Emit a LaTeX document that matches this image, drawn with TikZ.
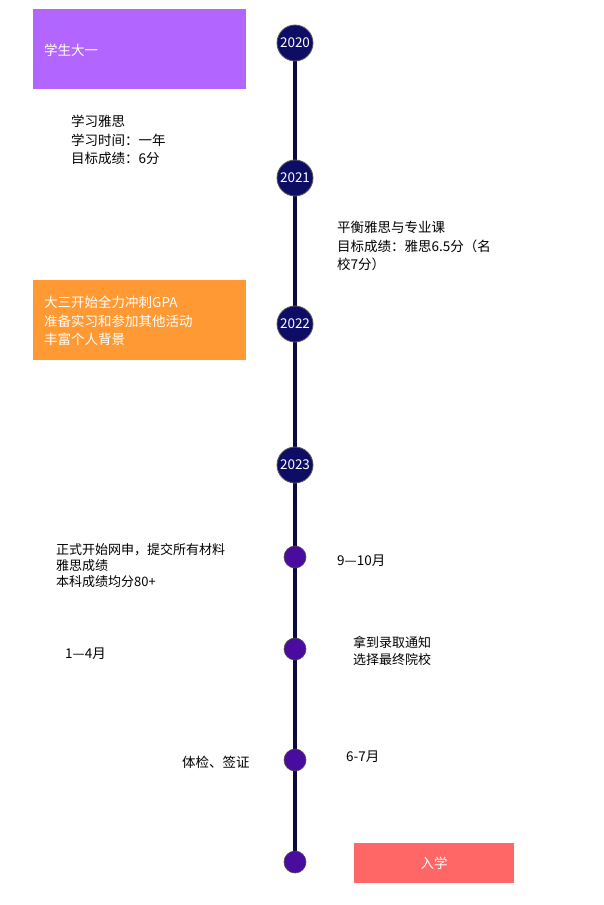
\documentclass[tikz,border=0pt]{standalone}
\usepackage{fontspec}
\setmainfont{Noto Sans CJK SC}
\definecolor{pboxc}{HTML}{B266FF}
\definecolor{oboxc}{HTML}{FF9933}
\definecolor{rboxc}{HTML}{FF6666}
\definecolor{linec}{HTML}{0A0A3C}
\definecolor{yearc}{HTML}{0D0D66}
\definecolor{dotc}{HTML}{4A0C9E}
\begin{document}
\begin{tikzpicture}[x=1pt,y=-1pt,
  yearnode/.style={circle,fill=yearc,draw=gray!70!black,line width=0.8pt,minimum size=36pt,inner sep=0pt,text=white,font=\fontsize{13.5}{15}\selectfont},
  dotnode/.style={circle,fill=dotc,draw=gray!60!black,line width=0.6pt,minimum size=22pt,inner sep=0pt},
  txt/.style={anchor=north west,align=left,inner sep=0pt,font=\fontsize{13.5}{18.5}\selectfont},
  wtxt/.style={txt,text=white}]
\useasboundingbox (0,0) rectangle (603,905);
\fill[white] (0,0) rectangle (603,905);
% boxes
\fill[pboxc] (33,9) rectangle (246,89);
\node[wtxt,anchor=west] (t1) at (44,50) {学生大一};
\fill[oboxc] (33,280) rectangle (246,360);
\node[wtxt] (t3) at (44,296) {大三开始全力冲刺GPA\\准备实习和参加其他活动\\丰富个人背景};
\fill[rboxc] (354,843) rectangle (514,883);
\node[text=white,font=\fontsize{13.5}{15}\selectfont] (t9) at (434,863) {入学};
% timeline
\coordinate (top) at (295,43);
\coordinate (bot) at (295,862);
\draw[linec,line width=4pt] (top) -- (bot);
\node[yearnode] (y0) at (295,43) {2020};
\node[yearnode] (y1) at (295,178) {2021};
\node[yearnode] (y2) at (295,324) {2022};
\node[yearnode] (y3) at (295,465) {2023};
\node[dotnode] (d1) at (295,557) {};
\node[dotnode] (d2) at (295,649) {};
\node[dotnode] (d3) at (295,760) {};
\node[dotnode] (d4) at (295,862) {};
% texts
\node[txt] (t2) at (71,115) {学习雅思\\学习时间：一年\\目标成绩：6分};
\node[txt] (t4) at (337,221) {平衡雅思与专业课\\目标成绩：雅思6.5分（名\\校7分）};
\node[txt,font=\fontsize{13}{16}\selectfont] (t5) at (56,543) {正式开始网申，提交所有材料\\雅思成绩\\本科成绩均分80+};
\node[txt,anchor=west] (t6) at (337,561) {9—10月};
\node[txt,anchor=west] (t7) at (65,654) {1—4月};
\node[txt,font=\fontsize{13}{17}\selectfont] (t8) at (353,636) {拿到录取通知\\选择最终院校};
\node[txt,anchor=west] (t10) at (182,762) {体检、签证};
\node[txt,anchor=west] (t11) at (346,757) {6-7月};
\end{tikzpicture}
\end{document}
